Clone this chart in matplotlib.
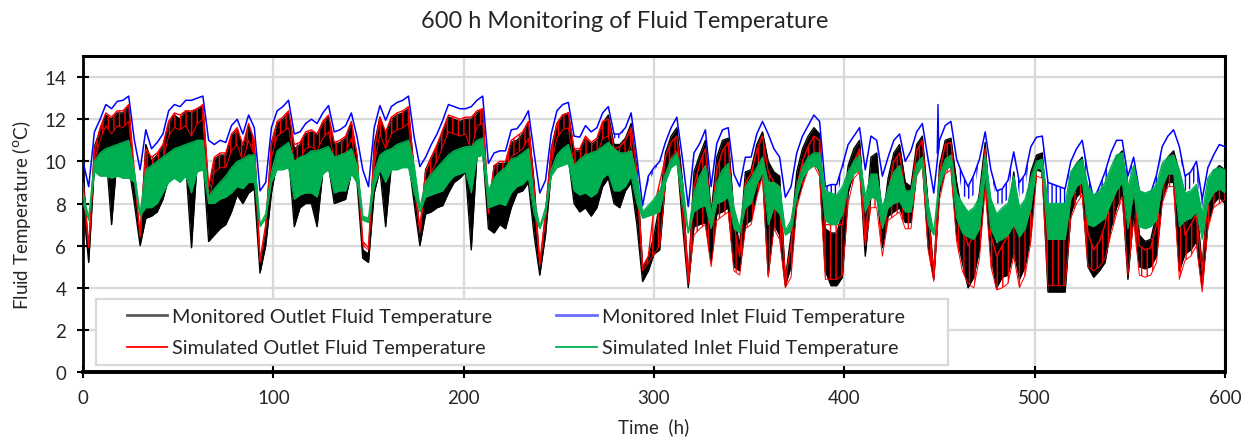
import numpy as np
import matplotlib
matplotlib.use("Agg")
import matplotlib.pyplot as plt
from matplotlib.lines import Line2D
from matplotlib.patches import Rectangle

plt.rcParams['font.family'] = ['Lato', 'DejaVu Sans']
plt.rcParams['hatch.linewidth'] = 1.0

# time grid (h), one reading every 3 h
T = np.arange(0, 601, 3)

# Monitored inlet (blue): upper / lower envelope
BLUE_HI = [
    10.0, 8.8, 11.4, 12.0, 12.7, 12.5, 12.85, 12.9, 13.1, 11.0,
    9.6, 11.5, 10.6, 10.9, 11.3, 12.4, 12.7, 12.6, 12.9, 12.9,
    13.0, 13.1, 11.0, 10.8, 11.0, 10.9, 11.7, 12.0, 11.3, 12.2,
    11.6, 8.6, 9.0, 11.6, 12.4, 12.6, 12.9, 11.3, 11.4, 11.8,
    12.0, 11.8, 12.3, 12.65, 11.4, 11.5, 11.7, 12.3, 11.15, 9.6,
    8.8, 11.6, 12.65, 11.95, 12.6, 12.8, 12.9, 13.1, 11.15, 9.75,
    10.2, 10.8, 11.3, 11.95, 12.7, 12.6, 12.5, 12.5, 12.6, 12.9,
    13.1, 9.9, 10.4, 10.5, 10.5, 11.5, 11.55, 11.9, 12.4, 10.4,
    8.5, 9.1, 11.3, 12.4, 12.7, 12.8, 11.2, 11.15, 11.7, 11.4,
    11.6, 12.3, 12.6, 11.3, 11.3, 11.6, 12.3, 10.2, 7.9, 9.3,
    9.7, 10.0, 10.9, 11.6, 12.1, 10.1, 7.85, 10.4, 10.85, 11.5,
    8.8, 10.85, 11.5, 11.6, 9.4, 8.8, 10.2, 10.2, 11.3, 11.9,
    11.3, 10.6, 10.2, 8.3, 8.8, 10.4, 11.2, 11.7, 12.2, 11.9,
    8.8, 8.9, 8.9, 9.8, 10.8, 11.2, 11.6, 9.6, 11.2, 11.0,
    9.3, 10.2, 11.0, 11.3, 10.0, 10.5, 11.4, 11.8, 10.1, 8.5,
    11.0, 11.7, 11.9, 10.1, 9.4, 8.8, 9.35, 10.1, 11.4, 9.6,
    8.6, 8.7, 9.1, 10.45, 9.0, 9.4, 10.7, 11.15, 11.2, 9.0,
    8.9, 8.8, 8.7, 10.0, 10.6, 11.0, 9.4, 8.2, 8.8, 9.5,
    10.4, 11.0, 11.0, 9.3, 10.2, 8.6, 8.3, 8.5, 9.35, 10.7,
    11.2, 11.5, 10.7, 9.3, 9.5, 10.0, 8.2, 9.7, 10.3, 10.8,
    10.7,
]
BLUE_LO = [
    10.0, 8.8, 11.4, 12.0, 12.7, 12.5, 12.85, 12.9, 13.1, 11.0,
    9.6, 11.5, 10.6, 10.9, 11.3, 12.4, 12.7, 12.6, 12.9, 12.9,
    13.0, 13.1, 11.0, 10.8, 11.0, 10.9, 11.7, 12.0, 11.3, 12.2,
    11.6, 8.6, 9.0, 11.6, 12.4, 12.6, 12.9, 11.3, 11.4, 11.8,
    12.0, 11.8, 12.3, 12.65, 11.4, 11.5, 11.7, 12.3, 11.15, 9.6,
    8.8, 11.6, 12.65, 11.95, 12.6, 12.8, 12.9, 13.1, 11.15, 9.75,
    10.2, 10.8, 11.3, 11.95, 12.7, 12.6, 12.5, 12.5, 12.6, 12.9,
    13.1, 9.9, 10.4, 10.5, 10.5, 11.5, 11.55, 11.9, 12.4, 10.4,
    8.5, 9.1, 11.3, 12.4, 12.7, 12.8, 11.2, 11.15, 11.7, 11.4,
    11.6, 12.3, 12.6, 11.1, 11.1, 11.6, 12.3, 10.2, 7.9, 9.0,
    9.5, 10.0, 10.9, 11.6, 12.1, 10.1, 7.85, 10.4, 10.85, 11.5,
    8.8, 10.85, 11.5, 11.6, 9.4, 8.8, 10.2, 10.2, 11.3, 11.9,
    11.3, 10.6, 10.2, 8.3, 8.8, 10.4, 11.2, 11.7, 12.2, 11.9,
    8.6, 8.2, 8.2, 9.5, 10.8, 11.2, 11.6, 9.6, 11.2, 11.0,
    9.3, 10.2, 11.0, 11.3, 10.0, 10.5, 11.4, 11.8, 10.1, 8.5,
    11.0, 11.7, 11.9, 10.1, 8.4, 8.2, 8.4, 10.1, 11.4, 9.6,
    8.0, 8.0, 8.2, 10.45, 8.3, 8.6, 10.7, 11.15, 11.2, 8.0,
    8.0, 8.0, 8.0, 10.0, 10.6, 11.0, 8.4, 7.8, 7.9, 8.8,
    10.4, 11.0, 11.0, 8.6, 10.2, 8.0, 7.8, 7.9, 8.6, 10.7,
    11.2, 11.5, 10.7, 8.6, 8.7, 9.2, 7.8, 9.7, 10.3, 10.8,
    10.7,
]

# Monitored outlet (black)
BLACK_HI = [
    9.5, 5.6, 10.7, 11.5, 12.2, 12.0, 12.3, 12.3, 12.6, 9.0,
    6.3, 10.8, 10.0, 10.3, 10.7, 11.8, 12.2, 12.0, 12.4, 12.3,
    12.5, 12.6, 8.5, 10.1, 10.3, 10.3, 11.2, 11.5, 10.6, 11.7,
    10.8, 5.0, 6.8, 10.9, 11.8, 12.0, 12.3, 10.6, 10.8, 11.3,
    11.4, 11.3, 11.8, 12.1, 10.8, 10.9, 11.1, 11.8, 10.2, 5.8,
    5.6, 10.8, 12.1, 11.3, 12.0, 12.2, 12.3, 12.5, 9.5, 6.5,
    9.6, 10.2, 10.7, 11.4, 12.1, 12.0, 11.9, 12.0, 12.0, 12.3,
    12.5, 7.5, 9.8, 9.9, 9.9, 10.9, 11.0, 11.3, 11.8, 9.0,
    4.9, 7.5, 10.6, 11.8, 12.2, 12.3, 10.5, 10.5, 11.1, 10.8,
    11.0, 11.8, 12.2, 10.8, 10.8, 11.1, 11.8, 9.6, 5.0, 5.4,
    6.5, 8.0, 10.4, 11.2, 11.6, 9.0, 4.3, 9.5, 10.3, 11.0,
    7.5, 10.2, 11.0, 11.1, 7.5, 6.0, 9.5, 9.6, 10.8, 11.4,
    10.0, 9.5, 9.3, 4.4, 6.5, 9.5, 10.6, 11.2, 11.6, 11.3,
    6.8, 6.6, 6.6, 7.5, 9.8, 10.6, 11.0, 7.0, 10.2, 10.4,
    7.0, 9.2, 10.4, 10.8, 9.0, 8.8, 10.8, 11.2, 8.0, 4.6,
    9.8, 11.0, 11.1, 9.0, 7.5, 6.5, 7.0, 8.5, 10.9, 7.0,
    6.0, 6.5, 7.2, 9.5, 6.8, 7.5, 9.5, 10.3, 10.4, 6.8,
    6.8, 6.8, 6.8, 9.3, 9.9, 10.2, 7.9, 7.2, 7.4, 7.9,
    9.4, 10.2, 10.5, 8.0, 9.4, 6.5, 6.2, 6.3, 7.5, 9.5,
    10.2, 10.5, 9.5, 7.0, 7.5, 8.0, 5.0, 8.5, 9.5, 9.8,
    9.6,
]
BLACK_LO = [
    8.0, 5.2, 9.8, 10.3, 10.5, 7.0, 10.2, 10.0, 9.8, 8.0,
    6.0, 7.3, 7.4, 7.6, 8.2, 9.2, 9.6, 9.3, 9.8, 5.9,
    10.0, 10.2, 6.2, 6.5, 6.8, 7.0, 7.6, 8.4, 8.0, 8.5,
    8.7, 4.7, 6.0, 8.5, 10.0, 10.2, 10.3, 6.9, 7.8, 8.0,
    8.0, 6.9, 9.5, 9.8, 8.0, 8.1, 8.2, 9.5, 9.0, 5.4,
    5.2, 8.5, 9.6, 6.9, 9.8, 10.0, 10.0, 10.1, 8.0, 6.0,
    7.5, 7.6, 7.8, 7.9, 8.5, 9.0, 9.2, 9.5, 5.8, 10.3,
    10.5, 6.8, 6.6, 7.0, 6.8, 7.8, 8.5, 8.6, 9.0, 6.5,
    4.6, 6.5, 9.5, 10.0, 10.2, 10.2, 8.0, 7.6, 7.8, 7.4,
    7.8, 8.8, 9.2, 8.0, 7.8, 8.6, 9.0, 7.0, 4.3, 4.8,
    5.6, 5.8, 9.0, 10.0, 10.3, 7.0, 4.0, 6.9, 7.0, 7.1,
    5.2, 7.5, 7.6, 7.8, 5.0, 4.8, 7.0, 7.2, 8.5, 9.5,
    4.6, 7.0, 6.5, 4.1, 5.0, 8.0, 9.0, 9.8, 10.0, 9.5,
    4.8, 4.1, 4.1, 4.5, 8.5, 9.5, 9.8, 5.5, 8.4, 8.6,
    5.9, 7.4, 7.6, 7.8, 7.1, 7.1, 9.5, 10.0, 6.0, 4.4,
    8.5, 9.6, 9.8, 6.5, 5.2, 4.0, 4.5, 5.8, 9.0, 5.5,
    4.0, 4.5, 4.6, 5.8, 4.4, 5.0, 6.5, 9.6, 9.5, 3.8,
    3.8, 3.8, 3.8, 7.5, 8.3, 8.6, 5.0, 4.5, 4.8, 5.2,
    6.8, 7.8, 8.5, 4.4, 7.5, 5.0, 4.9, 5.0, 5.5, 8.2,
    9.0, 9.0, 4.8, 5.6, 5.8, 6.2, 4.0, 7.0, 8.0, 8.3,
    8.0,
]

# Simulated outlet (red)
RED_HI = [
    9.0, 6.0, 10.5, 11.6, 12.3, 12.1, 12.4, 12.4, 12.7, 9.5,
    6.5, 10.6, 10.2, 10.4, 10.8, 11.9, 12.3, 12.2, 12.4, 12.4,
    12.5, 12.7, 8.8, 10.2, 10.4, 10.4, 11.3, 11.6, 10.8, 11.8,
    11.0, 5.3, 7.0, 10.8, 11.9, 12.1, 12.4, 10.8, 10.9, 11.4,
    11.5, 11.3, 11.9, 12.2, 10.9, 11.0, 11.2, 11.9, 10.3, 6.2,
    5.9, 10.5, 12.1, 11.4, 12.1, 12.3, 12.4, 12.6, 9.3, 6.8,
    9.5, 10.2, 10.8, 11.5, 12.2, 12.1, 12.0, 12.1, 12.1, 12.4,
    12.5, 7.8, 9.8, 10.0, 10.0, 11.0, 11.2, 11.4, 11.9, 8.8,
    5.2, 7.5, 10.5, 11.8, 12.2, 12.3, 10.6, 10.6, 11.2, 10.9,
    11.1, 11.9, 12.0, 10.6, 10.7, 11.0, 11.6, 9.5, 5.0, 5.5,
    7.8, 9.0, 10.2, 10.9, 11.2, 8.5, 4.5, 8.8, 9.9, 10.6,
    7.2, 9.6, 10.5, 10.9, 7.0, 5.5, 9.0, 9.4, 10.5, 11.2,
    9.5, 9.0, 8.8, 4.4, 6.0, 8.8, 10.0, 10.7, 11.2, 11.0,
    7.0, 7.0, 7.0, 7.0, 9.0, 10.0, 10.6, 6.3, 9.2, 9.4,
    7.0, 8.5, 10.0, 10.4, 8.5, 8.5, 10.5, 11.0, 7.5, 4.6,
    9.5, 10.8, 10.9, 8.2, 7.0, 6.0, 6.5, 8.0, 10.6, 6.5,
    5.5, 6.0, 6.5, 8.8, 6.5, 7.0, 9.0, 9.6, 9.8, 6.3,
    6.3, 6.3, 6.3, 8.5, 9.2, 9.6, 6.6, 5.8, 6.2, 7.0,
    8.8, 9.7, 10.0, 7.5, 9.0, 6.0, 5.8, 5.9, 7.0, 9.2,
    9.9, 10.3, 9.0, 6.5, 7.0, 7.5, 4.8, 8.2, 9.2, 9.5,
    9.4,
]
RED_LO = [
    8.6, 5.9, 10.0, 11.0, 11.7, 11.3, 11.7, 11.6, 11.9, 9.2,
    6.4, 9.8, 9.5, 9.7, 10.1, 11.2, 11.6, 11.5, 11.7, 11.2,
    11.8, 12.0, 8.0, 9.5, 9.7, 9.7, 10.5, 10.8, 10.0, 11.0,
    10.3, 5.2, 6.9, 10.2, 11.2, 11.4, 11.6, 10.0, 10.1, 10.6,
    10.7, 10.5, 11.1, 11.4, 10.1, 10.2, 10.4, 11.1, 9.6, 6.0,
    5.8, 9.8, 11.3, 10.6, 11.3, 11.5, 11.6, 11.8, 8.8, 6.6,
    9.0, 9.5, 10.0, 10.7, 11.4, 11.3, 11.2, 11.3, 10.5, 11.7,
    11.8, 7.5, 9.0, 9.2, 9.2, 10.2, 10.4, 10.6, 11.1, 8.2,
    5.0, 7.2, 9.9, 11.1, 11.5, 11.6, 9.8, 9.8, 10.4, 10.1,
    10.3, 11.1, 11.2, 9.8, 9.9, 10.2, 10.8, 8.8, 4.8, 5.2,
    5.6, 6.0, 9.0, 10.2, 10.5, 7.5, 4.2, 6.5, 6.8, 7.0,
    5.0, 7.2, 7.4, 7.6, 4.8, 4.6, 6.8, 7.0, 8.3, 9.3,
    4.5, 6.8, 6.3, 4.0, 4.5, 7.8, 8.8, 9.6, 9.8, 9.3,
    4.4, 4.4, 4.4, 4.6, 8.0, 9.2, 9.5, 6.0, 7.8, 7.8,
    5.5, 7.2, 7.4, 7.6, 6.8, 6.8, 9.3, 9.8, 5.8, 4.3,
    8.2, 9.4, 9.6, 6.2, 4.8, 4.2, 4.0, 5.4, 8.8, 5.0,
    3.9, 4.0, 4.2, 5.5, 4.0, 4.6, 6.2, 9.3, 9.2, 4.1,
    4.1, 4.1, 4.1, 7.3, 8.0, 8.4, 5.0, 4.8, 5.0, 5.4,
    6.5, 7.5, 8.3, 4.6, 7.2, 4.6, 4.5, 4.6, 5.2, 8.0,
    8.8, 8.8, 4.4, 5.3, 5.5, 6.0, 3.8, 6.8, 7.8, 8.0,
    8.2,
]

# Simulated inlet (green)
GREEN_HI = [
    8.5, 7.3, 10.0, 10.4, 10.6, 10.7, 10.8, 10.9, 11.0, 9.5,
    7.5, 9.6, 9.8, 10.0, 10.2, 10.4, 10.6, 10.7, 10.8, 10.9,
    11.0, 11.0, 8.3, 8.7, 9.0, 9.3, 9.7, 10.0, 10.1, 10.3,
    10.3, 7.0, 7.5, 9.5, 10.5, 10.7, 10.9, 10.0, 10.2, 10.3,
    10.5, 10.5, 10.6, 10.7, 10.2, 10.3, 10.4, 10.6, 9.8, 7.4,
    7.3, 9.5, 10.3, 10.5, 10.6, 10.8, 10.9, 11.0, 9.8, 7.8,
    9.0, 9.4, 9.7, 10.0, 10.3, 10.5, 10.6, 10.7, 10.7, 11.0,
    11.1, 8.6, 9.2, 9.5, 9.7, 10.1, 10.2, 10.4, 10.6, 8.2,
    6.9, 7.8, 9.6, 10.3, 10.6, 10.8, 9.8, 10.1, 10.3, 10.4,
    10.5, 10.7, 10.9, 10.6, 10.4, 10.4, 10.5, 9.3, 7.6, 7.9,
    8.2, 8.6, 9.4, 10.1, 10.4, 9.0, 6.6, 8.5, 9.3, 9.8,
    7.5, 9.0, 9.6, 9.9, 7.8, 6.8, 8.8, 9.2, 9.7, 10.2,
    9.0, 9.0, 8.8, 6.7, 7.2, 8.8, 9.7, 10.2, 10.4, 10.4,
    8.6, 8.5, 8.4, 8.8, 9.5, 10.0, 10.3, 8.3, 9.4, 9.4,
    7.8, 8.7, 9.5, 9.8, 8.6, 8.6, 9.9, 10.2, 8.0, 6.6,
    9.3, 10.1, 10.3, 8.5, 8.0, 7.6, 7.8, 8.3, 10.3, 8.2,
    7.5, 7.8, 8.0, 9.3, 7.8, 8.2, 9.2, 10.0, 10.1, 8.0,
    8.0, 8.0, 8.0, 9.5, 9.9, 10.1, 8.8, 8.4, 8.6, 9.0,
    9.7, 10.3, 10.4, 8.8, 9.8, 8.6, 8.5, 8.6, 8.9, 9.9,
    10.2, 10.3, 9.6, 8.5, 8.6, 8.9, 7.5, 9.2, 9.6, 9.7,
    9.6,
]
GREEN_LO = [
    8.0, 7.2, 9.5, 9.3, 9.3, 9.2, 9.3, 9.2, 9.2, 9.0,
    7.4, 7.8, 7.8, 8.0, 8.5, 9.0, 9.2, 9.0, 9.3, 8.5,
    9.5, 9.6, 8.0, 8.0, 8.2, 8.3, 8.5, 8.8, 8.7, 9.0,
    9.0, 6.9, 7.3, 9.0, 9.6, 9.6, 9.7, 8.2, 8.4, 8.5,
    8.5, 8.3, 9.4, 9.6, 8.5, 8.6, 8.6, 9.4, 9.0, 7.2,
    7.1, 8.8, 9.6, 9.0, 9.6, 9.6, 9.7, 9.7, 8.5, 7.6,
    8.3, 8.4, 8.5, 8.6, 9.0, 9.3, 9.4, 9.5, 8.5, 10.2,
    10.3, 7.8, 7.9, 8.0, 7.9, 8.5, 8.8, 8.9, 9.2, 7.5,
    6.8, 7.5, 9.3, 9.7, 9.8, 9.9, 8.6, 8.4, 8.5, 8.3,
    8.5, 9.2, 9.4, 8.6, 8.6, 8.8, 9.3, 8.0, 7.3, 7.4,
    7.5, 7.6, 9.0, 9.7, 9.9, 8.0, 6.6, 7.6, 7.8, 7.9,
    6.8, 8.0, 8.1, 8.3, 6.8, 6.6, 7.8, 8.0, 8.9, 9.5,
    7.0, 7.8, 7.5, 6.5, 6.7, 8.3, 9.2, 9.6, 9.8, 9.6,
    7.2, 7.0, 7.0, 7.5, 8.8, 9.4, 9.6, 7.6, 8.3, 8.2,
    6.8, 7.8, 8.0, 8.1, 7.6, 7.6, 9.4, 9.8, 7.0, 6.5,
    8.8, 9.6, 9.8, 7.3, 6.6, 6.4, 6.3, 6.8, 9.4, 6.8,
    6.2, 6.3, 6.5, 7.0, 6.4, 6.8, 7.8, 9.7, 9.6, 6.3,
    6.3, 6.3, 6.3, 8.2, 8.8, 9.0, 7.0, 6.9, 7.1, 7.3,
    8.0, 8.6, 9.0, 6.8, 8.5, 6.9, 6.8, 6.9, 7.2, 8.8,
    9.4, 9.4, 6.9, 7.2, 7.3, 7.6, 6.3, 8.0, 8.5, 8.7,
    8.5,
]

# short sensor spike in the monitored inlet near 449 h
SPIKE_T = [448.8, 449.2, 449.6]
SPIKE_V = [10.4, 12.7, 10.6]

LABELS = ["Monitored Outlet Fluid Temperature", "Simulated Outlet Fluid Temperature",
          "Monitored Inlet Fluid Temperature", "Simulated Inlet Fluid Temperature"]
C_BLACK, C_BLUE, C_RED, C_GREEN = "#000000", "#0000ff", "#ff0000", "#00b050"
TXT = "#262626"

fig = plt.figure(figsize=(12.5, 4.39), dpi=100)
fig.patch.set_facecolor('white')
ax = fig.add_axes([0.0664, 0.1503, 0.9136, 0.7197])

# monitored outlet: dense cycling band drawn solid
ax.fill_between(T, BLACK_LO, BLACK_HI, color=C_BLACK, lw=0, zorder=3)
ax.plot(T, BLACK_HI, color=C_BLACK, lw=1.0, zorder=3)
ax.plot(T, BLACK_LO, color=C_BLACK, lw=1.0, zorder=3)

# monitored inlet: cycling shown as vertical strokes
ax.fill_between(T, BLUE_LO, BLUE_HI, facecolor='none', edgecolor=C_BLUE, hatch='||||',
                lw=0, zorder=3.5)
ax.plot(T, BLUE_HI, color=C_BLUE, lw=1.1, zorder=3.5)
ax.plot(SPIKE_T, SPIKE_V, color=C_BLUE, lw=1.0, zorder=3.5)

# simulated outlet
ax.fill_between(T, RED_LO, RED_HI, facecolor='none', edgecolor=C_RED, hatch='|||',
                lw=0, zorder=4)
ax.plot(T, RED_HI, color=C_RED, lw=1.0, zorder=4)
ax.plot(T, RED_LO, color=C_RED, lw=0.7, zorder=4)

# simulated inlet
ax.fill_between(T, GREEN_LO, GREEN_HI, color=C_GREEN, lw=0, zorder=5)
ax.plot(T, GREEN_HI, color=C_GREEN, lw=1.0, zorder=5)
ax.plot(T, GREEN_LO, color=C_GREEN, lw=0.8, zorder=5)

ax.set_xlim(0, 600)
ax.set_ylim(0, 15)
ax.set_xticks(range(0, 601, 100))
ax.set_yticks(range(0, 15, 2))
ax.grid(True, color='#d9d9d9', lw=1.6)
ax.set_axisbelow(True)
for side, w in [('left', 2.0), ('bottom', 2.8), ('top', 2.2), ('right', 2.2)]:
    ax.spines[side].set_linewidth(w)
    ax.spines[side].set_color('black')
ax.tick_params(labelsize=13.5, length=8, width=1.5, direction='inout', colors='black',
               labelcolor=TXT, pad=8)

ax.set_xlabel("Time  (h)", fontsize=13.5, color=TXT, labelpad=8)
ax.set_ylabel("Fluid Temperature ($^{\\mathrm{o}}$C)", fontsize=13.5, color=TXT, labelpad=8)
fig.text(0.5, 1 - 22 / 439, "600 h Monitoring of Fluid Temperature", ha='center', va='center',
         fontsize=17, color=TXT)

# legend frame, then the entries inside it
ax.add_patch(Rectangle((0.0114, 0.0222), 0.746, 0.2088, transform=ax.transAxes,
                       facecolor='white', edgecolor='#d9d9d9', lw=1.6, zorder=9))
handles = [Line2D([], [], color='#595959', lw=2.0), Line2D([], [], color=C_RED, lw=1.3),
           Line2D([], [], color='#6b6bff', lw=2.0), Line2D([], [], color=C_GREEN, lw=1.3)]
leg = ax.legend(handles, LABELS, loc='center left', bbox_to_anchor=(0.0381, 0.0266, 0.6817, 0.2),
                mode='expand', ncol=2, fontsize=14.3, frameon=False, handlelength=2.05,
                handletextpad=0.25, borderaxespad=0, borderpad=0, labelspacing=0.75)
leg.set_zorder(10)
for txt in leg.get_texts():
    txt.set_color(TXT)

fig.savefig("out.png", dpi=100, facecolor='white')
